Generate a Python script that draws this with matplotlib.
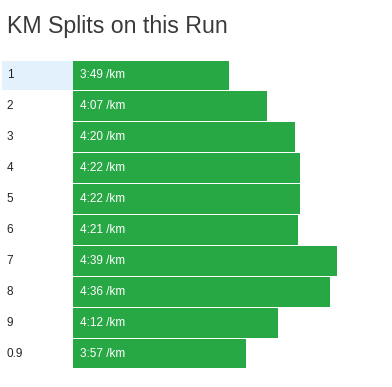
import matplotlib
matplotlib.use('Agg')
import matplotlib.pyplot as plt

# split labels and pace (seconds per km)
splits = ['1', '2', '3', '4', '5', '6', '7', '8', '9', '0.9']
pace_labels = ['3:49', '4:07', '4:20', '4:22', '4:22', '4:21', '4:39', '4:36', '4:12', '3:57']
pace_sec = [229, 247, 260, 262, 262, 261, 279, 276, 252, 237]

green = '#28a745'
highlight = '#e3f1fc'

plt.rcParams['font.family'] = ['Liberation Sans', 'DejaVu Sans']

W, H = 392, 387
fig = plt.figure(figsize=(W / 100, H / 100), dpi=100)

top_px, bot_px = 60, 369
bottom = (H - bot_px) / H
height = (bot_px - top_px) / H
n = len(splits)

# bar area
ax = fig.add_axes([73 / W, bottom, (W - 73) / W, height])
ax.barh(range(n), pace_sec, height=0.965, left=0, color=green, zorder=2)
x0 = 157
ax.set_xlim(x0, x0 + (W - 73) / 2.16)
ax.set_ylim(n - 0.5, -0.5)
for i, lab in enumerate(pace_labels):
    ax.text(x0 + 3.3, i, lab + ' /km', color='white', fontsize=8.5,
            va='center', ha='left', zorder=3)
ax.axis('off')

# label column
axl = fig.add_axes([2 / W, bottom, 71 / W, height])
axl.barh([0], [1], height=0.965, color=highlight)
axl.set_xlim(0, 1)
axl.set_ylim(n - 0.5, -0.5)
for i, s in enumerate(splits):
    axl.text(0.065, i, s, color='#222222', fontsize=8.5, va='center', ha='left')
axl.axis('off')

fig.text(7 / W, 1 - 27 / H, 'KM Splits on this Run', fontsize=16.7,
         color='#3a3a3a', va='center', ha='left')

fig.savefig('out.png', dpi=100)
